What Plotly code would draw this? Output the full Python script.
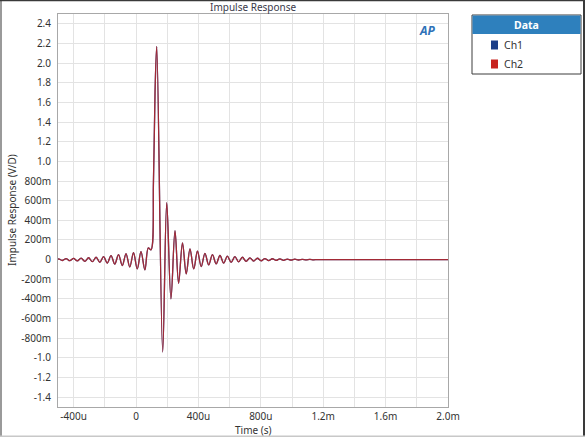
import plotly.graph_objects as go

# ---- data ----
time_us = [
    -500, -496, -472, -448, -424, -400, -376, -352, -328, -304, -280, -256,
    -232, -208, -184, -160, -136, -112, -88, -64, -40, -16, 8, 32, 57, 79,
    96, 112, 122, 133, 171, 197, 224, 250, 273, 298, 322, 346, 370, 394, 418,
    442, 466, 490, 514, 538, 562, 586, 610, 634, 658, 682, 706, 730, 754,
    778, 802, 826, 850, 874, 898, 922, 946, 970, 994, 1018, 1042, 1066,
    1090, 1114, 1138, 1162, 1186, 2000,
]
ch1_values = [
    0.0, 0.008, -0.009, 0.010, -0.011, 0.012, -0.013, 0.015, -0.017, 0.019,
    -0.021, 0.024, -0.027, 0.030, -0.035, 0.040, -0.045, 0.050, -0.060,
    0.060, -0.075, 0.070, -0.095, 0.080, -0.105, 0.120, 0.100, 0.80, 1.70,
    2.17, -0.94, 0.58, -0.40, 0.295, -0.24, 0.17, -0.145, 0.11, -0.095,
    0.085, -0.071, 0.064, -0.054, 0.050, -0.044, 0.042, -0.035, 0.036,
    -0.028, 0.030, -0.022, 0.024, -0.018, 0.018, -0.015, 0.014, -0.012,
    0.011, -0.010, 0.009, -0.008, 0.008, -0.007, 0.006, -0.005, 0.005,
    -0.004, 0.003, -0.003, 0.002, -0.002, 0.001, 0.0, 0.0,
]
ch2_values = list(ch1_values)

x_tick_vals = [-400e-6, -200e-6, 0, 200e-6, 400e-6, 600e-6, 800e-6, 1000e-6,
               1200e-6, 1400e-6, 1600e-6, 1800e-6, 2000e-6]
x_tick_text = ["-400u", "", "0", "", "400u", "", "800u", "", "1.2m", "",
               "1.6m", "", "2.0m"]
y_tick_vals = [-1.4, -1.2, -1.0, -0.8, -0.6, -0.4, -0.2, 0, 0.2, 0.4, 0.6,
               0.8, 1.0, 1.2, 1.4, 1.6, 1.8, 2.0, 2.2, 2.4]
y_tick_text = ["-1.4", "-1.2", "-1.0", "-800m", "-600m", "-400m", "-200m",
               "0", "200m", "400m", "600m", "800m", "1.0", "1.2", "1.4",
               "1.6", "1.8", "2.0", "2.2", "2.4"]

series_names = ["Ch1", "Ch2"]
series_colors = ["#1c3f88", "#c8231f"]

time_s = [t * 1e-6 for t in time_us]

W, H = 585, 437
L, R, T, B = 58, 448, 14, 407


def px(x):
    return (x - L) / (R - L)


def py(y):
    return (B - y) / (B - T)


fig = go.Figure()
fig.add_trace(go.Scatter(x=time_s, y=ch1_values, mode="lines", name="Ch1",
                         line=dict(color=series_colors[0], width=1.3,
                                   shape="spline", smoothing=1.0),
                         showlegend=False))
fig.add_trace(go.Scatter(x=time_s, y=ch2_values, mode="lines", name="Ch2",
                         line=dict(color=series_colors[1], width=1.3,
                                   shape="spline", smoothing=1.0),
                         opacity=0.78, showlegend=False))

font = dict(family="Noto Sans, DejaVu Sans, sans-serif", size=10, color="#333333")

fig.update_layout(
    width=W, height=H,
    margin=dict(l=L, r=W - R, t=T, b=H - B, autoexpand=False),
    paper_bgcolor="white", plot_bgcolor="white",
    font=font,
    showlegend=False,
    xaxis=dict(range=[-500e-6, 2000e-6], tickvals=x_tick_vals,
               ticktext=x_tick_text, showgrid=True, gridcolor="#e3e3e3",
               gridwidth=1, zeroline=False, showline=True, linecolor="#a8a8a8",
               mirror=True, ticks="", ticklabelstandoff=0, automargin=False),
    yaxis=dict(range=[-1.5, 2.5], tickvals=y_tick_vals, ticktext=y_tick_text,
               showgrid=True, gridcolor="#e3e3e3", gridwidth=1,
               zeroline=False, showline=True, linecolor="#a8a8a8",
               mirror=True, ticks="", ticklabelstandoff=4, automargin=False),
)

shapes = []
annotations = []

# title and axis titles
annotations.append(dict(text="Impulse Response", x=px(253), y=py(7),
                        xref="paper", yref="paper", showarrow=False,
                        font=dict(size=10, color="#3a3a4a"),
                        xanchor="center", yanchor="middle"))
annotations.append(dict(text="Time (s)", x=px(253), y=py(429.5),
                        xref="paper", yref="paper", showarrow=False,
                        font=dict(size=10, color="#333333"),
                        xanchor="center", yanchor="middle"))
annotations.append(dict(text="Impulse Response (V/D)", x=px(12), y=py(210),
                        xref="paper", yref="paper", showarrow=False,
                        textangle=-90,
                        font=dict(size=10, color="#333333"),
                        xanchor="center", yanchor="middle"))
# AP logo
annotations.append(dict(text="<b><i>AP</i></b>", x=px(427), y=py(30),
                        xref="paper", yref="paper", showarrow=False,
                        font=dict(size=12, color="#2f72b8"),
                        xanchor="center", yanchor="middle"))

# legend box
shapes.append(dict(type="rect", xref="paper", yref="paper",
                   x0=px(472), x1=px(581), y0=py(15), y1=py(74),
                   line=dict(color="#3c3c3c", width=1), fillcolor="white"))
shapes.append(dict(type="rect", xref="paper", yref="paper",
                   x0=px(472.5), x1=px(580.5), y0=py(15.5), y1=py(34),
                   line=dict(width=0), fillcolor="#2e80bd"))
annotations.append(dict(text="<b>Data</b>", x=px(526.5), y=py(25),
                        xref="paper", yref="paper", showarrow=False,
                        font=dict(size=10.5, color="white"),
                        xanchor="center", yanchor="middle"))
for i, (name, col) in enumerate(zip(series_names, series_colors)):
    cy = 45 + i * 19
    shapes.append(dict(type="rect", xref="paper", yref="paper",
                       x0=px(491), x1=px(498), y0=py(cy - 4.5), y1=py(cy + 4.5),
                       line=dict(width=0), fillcolor=col))
    annotations.append(dict(text=name, x=px(502), y=py(cy), xref="paper",
                            yref="paper", showarrow=False,
                            font=dict(size=10.5, color="#333333"),
                            xanchor="left", yanchor="middle"))

# outer frame
shapes.append(dict(type="rect", xref="paper", yref="paper",
                   x0=px(0), x1=px(2), y0=py(437), y1=py(0),
                   line=dict(width=0), fillcolor="#9a9a9a"))
shapes.append(dict(type="rect", xref="paper", yref="paper",
                   x0=px(0), x1=px(585), y0=py(1.2), y1=py(0),
                   line=dict(width=0), fillcolor="#3a3a3a"))
shapes.append(dict(type="rect", xref="paper", yref="paper",
                   x0=px(583), x1=px(585), y0=py(437), y1=py(0),
                   line=dict(width=0), fillcolor="#3a3a3a"))
shapes.append(dict(type="rect", xref="paper", yref="paper",
                   x0=px(0), x1=px(585), y0=py(437), y1=py(435.5),
                   line=dict(width=0), fillcolor="#c8c8c8"))

fig.update_layout(shapes=shapes, annotations=annotations)
fig.write_html(
    "out.html",
    config={"displayModeBar": False},
    post_script="document.body.style.margin='0px';document.body.style.overflow='hidden';",
)
